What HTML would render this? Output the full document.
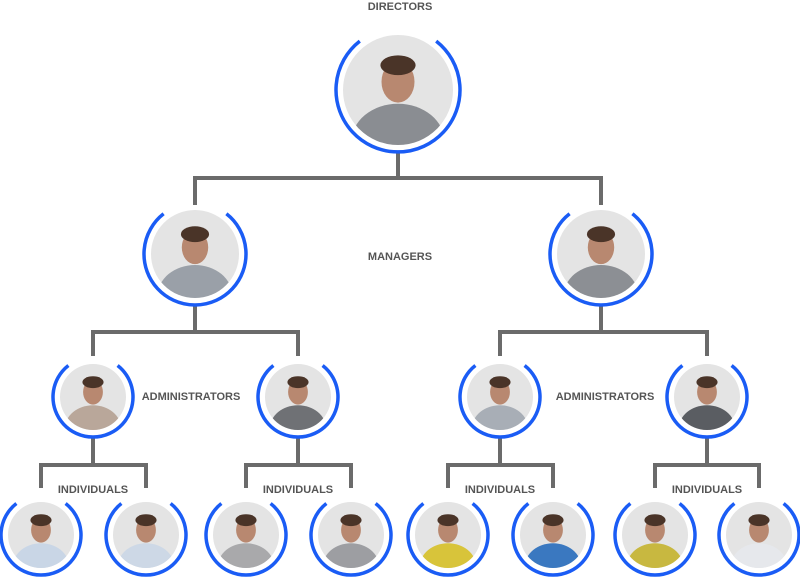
<!DOCTYPE html>
<html><head><meta charset="utf-8"><style>
html,body{margin:0;padding:0;background:#fff;}
svg{display:block}
text{font-family:"Liberation Sans",Arial,sans-serif;font-weight:bold;fill:#555;font-size:11px}
</style></head><body>
<svg id="s" width="800" height="581" viewBox="0 0 800 581" xmlns="http://www.w3.org/2000/svg">
<g stroke="#6b6b6b" stroke-width="4" fill="none">
<path d="M398 152V178M195 178H601M195 176V205M601 176V205"/>
<path d="M195 305V332M93 332H298M93 330V356M298 330V356"/>
<path d="M601 305V332M500 332H707M500 330V356M707 330V356"/>
<path d="M93 437V465M41 465H146M41 463V488M146 463V488"/>
<path d="M298 437V465M246 465H351M246 463V488M351 463V488"/>
<path d="M500 437V465M448 465H553M448 463V488M553 463V488"/>
<path d="M707 437V465M655 465H759M655 463V488M759 463V488"/>
</g>
<g id="nodes"></g>
<text x="400" y="10" text-anchor="middle">DIRECTORS</text>
<text x="400" y="260" text-anchor="middle">MANAGERS</text>
<text x="191" y="400" text-anchor="middle">ADMINISTRATORS</text>
<text x="605" y="400" text-anchor="middle">ADMINISTRATORS</text>
<text x="93" y="493" text-anchor="middle">INDIVIDUALS</text>
<text x="298" y="493" text-anchor="middle">INDIVIDUALS</text>
<text x="500" y="493" text-anchor="middle">INDIVIDUALS</text>
<text x="707" y="493" text-anchor="middle">INDIVIDUALS</text>
</svg>
<script>
var N=[[398,90,62,'#8a8d92'],[195,254,51,'#9aa0a8'],[601,254,51,'#8c8f94'],
[93,397,40,'#b9a79a'],[298,397,40,'#6f7175'],[500,397,40,'#a8aeb6'],[707,397,40,'#5a5d62'],
[41,535,40,'#c9d6e6'],[146,535,40,'#cdd8e6'],[246,535,40,'#a9a9ab'],[351,535,40,'#9d9ea2'],
[448,535,40,'#d8c43a'],[553,535,40,'#3a78c0'],[655,535,40,'#c8b840'],[759,535,40,'#e6e8ec']];
var g=document.getElementById('nodes'),h='',ns='http://www.w3.org/2000/svg';
N.forEach(function(n,i){var x=n[0],y=n[1],r=n[2],pr=r-7;
var a1=-52*Math.PI/180,a2=-128*Math.PI/180;
h+='<clipPath id="c'+i+'"><circle cx="'+x+'" cy="'+y+'" r="'+pr+'"/></clipPath>';
h+='<g clip-path="url(#c'+i+')"><rect x="'+(x-pr)+'" y="'+(y-pr)+'" width="'+2*pr+'" height="'+2*pr+'" fill="#e4e4e4"/>';
h+='<ellipse cx="'+x+'" cy="'+(y+pr*0.95)+'" rx="'+pr*0.85+'" ry="'+pr*0.7+'" fill="'+n[3]+'"/>';
h+='<ellipse cx="'+x+'" cy="'+(y-pr*0.15)+'" rx="'+pr*0.3+'" ry="'+pr*0.38+'" fill="#b88870"/>';
h+='<ellipse cx="'+x+'" cy="'+(y-pr*0.45)+'" rx="'+pr*0.32+'" ry="'+pr*0.18+'" fill="#4a3428"/></g>';
h+='<path d="M'+(x+r*Math.cos(a1)).toFixed(1)+' '+(y+r*Math.sin(a1)).toFixed(1)+'A'+r+' '+r+' 0 1 1 '+(x+r*Math.cos(a2)).toFixed(1)+' '+(y+r*Math.sin(a2)).toFixed(1)+'" fill="none" stroke="#1a5cf5" stroke-width="3.5"/>';
});
g.innerHTML=h;
</script>
</body></html>
